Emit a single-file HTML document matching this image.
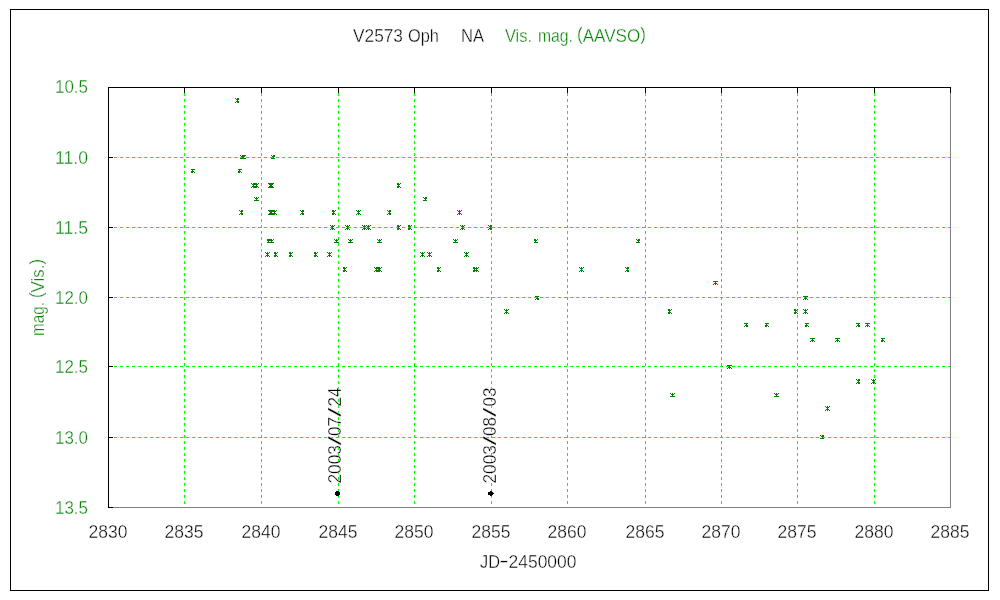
<!DOCTYPE html>
<html lang="en">
<head>
<meta charset="utf-8">
<title>V2573 Oph NA Vis. mag. (AAVSO)</title>
<style>
html,body{margin:0;padding:0;background:#fff;}
body{width:1000px;height:600px;overflow:hidden;}
svg{display:block;will-change:transform;}
text{font-family:"Liberation Sans",sans-serif;font-size:18px;stroke:#fff;stroke-width:0.36px;stroke-linejoin:round;}
.g{fill:#008000;}
.k{fill:#000;}
</style>
</head>
<body>
<svg width="1000" height="600" viewBox="0 0 1000 600">
<rect x="0" y="0" width="1000" height="600" fill="#fff"/>
<g shape-rendering="crispEdges">
<rect x="10.5" y="9.5" width="978" height="581" fill="none" stroke="#000" stroke-width="1"/>
<line x1="184.5" y1="87" x2="184.5" y2="507" stroke="#00ff00" stroke-width="1" stroke-dasharray="3 3"/>
<line x1="261.5" y1="87" x2="261.5" y2="507" stroke="#00ff00" stroke-width="1" stroke-dasharray="3 3"/>
<line x1="338.5" y1="87" x2="338.5" y2="507" stroke="#00ff00" stroke-width="1" stroke-dasharray="3 3"/>
<line x1="414.5" y1="87" x2="414.5" y2="507" stroke="#00ff00" stroke-width="1" stroke-dasharray="3 3"/>
<line x1="491.5" y1="87" x2="491.5" y2="507" stroke="#00ff00" stroke-width="1" stroke-dasharray="3 3"/>
<line x1="567.5" y1="87" x2="567.5" y2="507" stroke="#00ff00" stroke-width="1" stroke-dasharray="3 3"/>
<line x1="645.5" y1="87" x2="645.5" y2="507" stroke="#00ff00" stroke-width="1" stroke-dasharray="3 3"/>
<line x1="721.5" y1="87" x2="721.5" y2="507" stroke="#00ff00" stroke-width="1" stroke-dasharray="3 3"/>
<line x1="797.5" y1="87" x2="797.5" y2="507" stroke="#00ff00" stroke-width="1" stroke-dasharray="3 3"/>
<line x1="874.5" y1="87" x2="874.5" y2="507" stroke="#00ff00" stroke-width="1" stroke-dasharray="3 3"/>
<line x1="108" y1="157.5" x2="950" y2="157.5" stroke="#00ff00" stroke-width="1" stroke-dasharray="3 3"/>
<line x1="108" y1="227.5" x2="950" y2="227.5" stroke="#00ff00" stroke-width="1" stroke-dasharray="3 3"/>
<line x1="108" y1="297.5" x2="950" y2="297.5" stroke="#00ff00" stroke-width="1" stroke-dasharray="3 3"/>
<line x1="108" y1="366.5" x2="950" y2="366.5" stroke="#00ff00" stroke-width="1" stroke-dasharray="3 3"/>
<line x1="108" y1="437.5" x2="950" y2="437.5" stroke="#00ff00" stroke-width="1" stroke-dasharray="3 3"/>
<rect x="950" y="87" width="1" height="421" fill="#808080"/>
<rect x="108" y="507" width="843" height="1" fill="#808080"/>
<rect x="108" y="87" width="843" height="1" fill="#000"/>
<rect x="108" y="87" width="1" height="421" fill="#000"/>
<rect x="108" y="87" width="1" height="6" fill="#000"/>
<rect x="184" y="87" width="1" height="6" fill="#000"/>
<rect x="261" y="87" width="1" height="6" fill="#000"/>
<rect x="338" y="87" width="1" height="6" fill="#000"/>
<rect x="414" y="87" width="1" height="6" fill="#000"/>
<rect x="491" y="87" width="1" height="6" fill="#000"/>
<rect x="567" y="87" width="1" height="6" fill="#000"/>
<rect x="645" y="87" width="1" height="6" fill="#000"/>
<rect x="721" y="87" width="1" height="6" fill="#000"/>
<rect x="797" y="87" width="1" height="6" fill="#000"/>
<rect x="874" y="87" width="1" height="6" fill="#000"/>
<rect x="950" y="87" width="1" height="6" fill="#000"/>
<rect x="108" y="87" width="5" height="1" fill="#000"/>
<rect x="108" y="157" width="5" height="1" fill="#000"/>
<rect x="108" y="227" width="5" height="1" fill="#000"/>
<rect x="108" y="297" width="5" height="1" fill="#000"/>
<rect x="108" y="366" width="5" height="1" fill="#000"/>
<rect x="108" y="437" width="5" height="1" fill="#000"/>
<rect x="108" y="507" width="5" height="1" fill="#000"/>
</g>
<g fill="#008000" shape-rendering="crispEdges">
<path d="M235 98h1v1h-1zM237 98h2v1h-2zM236 99h3v1h-3zM237 100h1v1h-1zM236 101h3v1h-3zM235 102h1v1h-1zM237 102h2v1h-2z"/>
<path d="M240 155h1v1h-1zM242 155h1v1h-1zM244 155h1v1h-1zM241 156h3v1h-3zM242 157h1v1h-1zM240 158h5v1h-5z"/>
<path d="M242 155h2v1h-2zM245 155h1v1h-1zM242 156h3v1h-3zM243 157h1v1h-1zM242 158h4v1h-4z"/>
<path d="M271 155h1v1h-1zM273 155h2v1h-2zM272 156h3v1h-3zM273 157h1v1h-1zM271 158h4v1h-4z"/>
<path d="M191 169h4v1h-4zM192 170h1v1h-1zM191 171h3v1h-3zM191 172h2v1h-2zM194 172h1v1h-1z"/>
<path d="M238 169h4v1h-4zM239 170h1v1h-1zM238 171h3v1h-3zM238 172h2v1h-2zM241 172h1v1h-1z"/>
<path d="M251 183h1v1h-1zM253 183h1v1h-1zM255 183h1v1h-1zM252 184h3v1h-3zM253 185h1v1h-1zM252 186h3v1h-3zM251 187h1v1h-1zM253 187h1v1h-1zM255 187h1v1h-1z"/>
<path d="M254 183h1v1h-1zM256 183h1v1h-1zM258 183h1v1h-1zM255 184h3v1h-3zM256 185h1v1h-1zM255 186h3v1h-3zM254 187h1v1h-1zM256 187h1v1h-1zM258 187h1v1h-1z"/>
<path d="M268 183h1v1h-1zM270 183h1v1h-1zM272 183h1v1h-1zM269 184h3v1h-3zM270 185h1v1h-1zM269 186h3v1h-3zM268 187h1v1h-1zM270 187h1v1h-1zM272 187h1v1h-1z"/>
<path d="M269 183h1v1h-1zM271 183h1v1h-1zM273 183h1v1h-1zM270 184h3v1h-3zM271 185h1v1h-1zM270 186h3v1h-3zM269 187h1v1h-1zM271 187h1v1h-1zM273 187h1v1h-1z"/>
<path d="M397 183h2v1h-2zM400 183h1v1h-1zM397 184h3v1h-3zM398 185h1v1h-1zM397 186h3v1h-3zM397 187h2v1h-2zM400 187h1v1h-1z"/>
<path d="M254 197h1v1h-1zM256 197h1v1h-1zM258 197h1v1h-1zM255 198h3v1h-3zM256 199h1v1h-1zM254 200h5v1h-5z"/>
<path d="M423 197h1v1h-1zM425 197h2v1h-2zM424 198h3v1h-3zM425 199h1v1h-1zM423 200h4v1h-4z"/>
<path d="M239 210h1v1h-1zM241 210h2v1h-2zM240 211h3v1h-3zM241 212h1v1h-1zM240 213h3v1h-3zM239 214h1v1h-1zM241 214h2v1h-2z"/>
<path d="M268 210h1v1h-1zM270 210h1v1h-1zM272 210h1v1h-1zM269 211h3v1h-3zM270 212h1v1h-1zM269 213h3v1h-3zM268 214h1v1h-1zM270 214h1v1h-1zM272 214h1v1h-1z"/>
<path d="M269 210h1v1h-1zM271 210h1v1h-1zM273 210h1v1h-1zM270 211h3v1h-3zM271 212h1v1h-1zM270 213h3v1h-3zM269 214h1v1h-1zM271 214h1v1h-1zM273 214h1v1h-1z"/>
<path d="M272 210h1v1h-1zM274 210h1v1h-1zM276 210h1v1h-1zM273 211h3v1h-3zM274 212h1v1h-1zM273 213h3v1h-3zM272 214h1v1h-1zM274 214h1v1h-1zM276 214h1v1h-1z"/>
<path d="M300 210h1v1h-1zM302 210h2v1h-2zM301 211h3v1h-3zM302 212h1v1h-1zM301 213h3v1h-3zM300 214h1v1h-1zM302 214h2v1h-2z"/>
<path d="M332 210h2v1h-2zM335 210h1v1h-1zM332 211h3v1h-3zM333 212h1v1h-1zM332 213h3v1h-3zM332 214h2v1h-2zM335 214h1v1h-1z"/>
<path d="M356 210h1v1h-1zM358 210h1v1h-1zM360 210h1v1h-1zM357 211h3v1h-3zM358 212h1v1h-1zM357 213h3v1h-3zM356 214h1v1h-1zM358 214h1v1h-1zM360 214h1v1h-1z"/>
<path d="M387 210h1v1h-1zM389 210h2v1h-2zM388 211h3v1h-3zM389 212h1v1h-1zM388 213h3v1h-3zM387 214h1v1h-1zM389 214h2v1h-2z"/>
<path d="M457 210h1v1h-1zM459 210h1v1h-1zM461 210h1v1h-1zM458 211h3v1h-3zM459 212h1v1h-1zM458 213h3v1h-3zM457 214h1v1h-1zM459 214h1v1h-1zM461 214h1v1h-1z"/>
<path d="M330 225h1v1h-1zM332 225h1v1h-1zM334 225h1v1h-1zM331 226h3v1h-3zM332 227h1v1h-1zM331 228h3v1h-3zM330 229h1v1h-1zM332 229h1v1h-1zM334 229h1v1h-1z"/>
<path d="M345 225h1v1h-1zM347 225h1v1h-1zM349 225h1v1h-1zM346 226h3v1h-3zM347 227h1v1h-1zM346 228h3v1h-3zM345 229h1v1h-1zM347 229h1v1h-1zM349 229h1v1h-1z"/>
<path d="M362 225h1v1h-1zM364 225h1v1h-1zM366 225h1v1h-1zM363 226h3v1h-3zM364 227h1v1h-1zM363 228h3v1h-3zM362 229h1v1h-1zM364 229h1v1h-1zM366 229h1v1h-1z"/>
<path d="M366 225h1v1h-1zM368 225h1v1h-1zM370 225h1v1h-1zM367 226h3v1h-3zM368 227h1v1h-1zM367 228h3v1h-3zM366 229h1v1h-1zM368 229h1v1h-1zM370 229h1v1h-1z"/>
<path d="M397 225h2v1h-2zM400 225h1v1h-1zM397 226h3v1h-3zM398 227h1v1h-1zM397 228h3v1h-3zM397 229h2v1h-2zM400 229h1v1h-1z"/>
<path d="M408 225h2v1h-2zM411 225h1v1h-1zM408 226h3v1h-3zM409 227h1v1h-1zM408 228h3v1h-3zM408 229h2v1h-2zM411 229h1v1h-1z"/>
<path d="M460 225h1v1h-1zM462 225h1v1h-1zM464 225h1v1h-1zM461 226h3v1h-3zM462 227h1v1h-1zM461 228h3v1h-3zM460 229h1v1h-1zM462 229h1v1h-1zM464 229h1v1h-1z"/>
<path d="M488 225h1v1h-1zM490 225h2v1h-2zM489 226h3v1h-3zM490 227h1v1h-1zM489 228h3v1h-3zM488 229h1v1h-1zM490 229h2v1h-2z"/>
<path d="M267 239h2v1h-2zM270 239h1v1h-1zM267 240h3v1h-3zM268 241h1v1h-1zM267 242h4v1h-4z"/>
<path d="M269 239h1v1h-1zM271 239h1v1h-1zM273 239h1v1h-1zM270 240h3v1h-3zM271 241h1v1h-1zM269 242h5v1h-5z"/>
<path d="M334 239h1v1h-1zM336 239h1v1h-1zM338 239h1v1h-1zM335 240h3v1h-3zM336 241h1v1h-1zM334 242h5v1h-5z"/>
<path d="M348 239h1v1h-1zM350 239h1v1h-1zM352 239h1v1h-1zM349 240h3v1h-3zM350 241h1v1h-1zM348 242h5v1h-5z"/>
<path d="M377 239h1v1h-1zM379 239h1v1h-1zM381 239h1v1h-1zM378 240h3v1h-3zM379 241h1v1h-1zM377 242h5v1h-5z"/>
<path d="M453 239h1v1h-1zM455 239h1v1h-1zM457 239h1v1h-1zM454 240h3v1h-3zM455 241h1v1h-1zM453 242h5v1h-5z"/>
<path d="M534 239h2v1h-2zM537 239h1v1h-1zM534 240h3v1h-3zM535 241h1v1h-1zM534 242h4v1h-4z"/>
<path d="M636 239h1v1h-1zM638 239h2v1h-2zM637 240h3v1h-3zM638 241h1v1h-1zM636 242h4v1h-4z"/>
<path d="M265 252h1v1h-1zM267 252h1v1h-1zM269 252h1v1h-1zM266 253h3v1h-3zM267 254h1v1h-1zM266 255h3v1h-3zM265 256h1v1h-1zM267 256h1v1h-1zM269 256h1v1h-1z"/>
<path d="M274 252h2v1h-2zM277 252h1v1h-1zM274 253h3v1h-3zM275 254h1v1h-1zM274 255h3v1h-3zM274 256h2v1h-2zM277 256h1v1h-1z"/>
<path d="M289 252h2v1h-2zM292 252h1v1h-1zM289 253h3v1h-3zM290 254h1v1h-1zM289 255h3v1h-3zM289 256h2v1h-2zM292 256h1v1h-1z"/>
<path d="M314 252h2v1h-2zM317 252h1v1h-1zM314 253h3v1h-3zM315 254h1v1h-1zM314 255h3v1h-3zM314 256h2v1h-2zM317 256h1v1h-1z"/>
<path d="M327 252h1v1h-1zM329 252h1v1h-1zM331 252h1v1h-1zM328 253h3v1h-3zM329 254h1v1h-1zM328 255h3v1h-3zM327 256h1v1h-1zM329 256h1v1h-1zM331 256h1v1h-1z"/>
<path d="M420 252h1v1h-1zM422 252h1v1h-1zM424 252h1v1h-1zM421 253h3v1h-3zM422 254h1v1h-1zM421 255h3v1h-3zM420 256h1v1h-1zM422 256h1v1h-1zM424 256h1v1h-1z"/>
<path d="M427 252h1v1h-1zM429 252h1v1h-1zM431 252h1v1h-1zM428 253h3v1h-3zM429 254h1v1h-1zM428 255h3v1h-3zM427 256h1v1h-1zM429 256h1v1h-1zM431 256h1v1h-1z"/>
<path d="M464 252h1v1h-1zM466 252h1v1h-1zM468 252h1v1h-1zM465 253h3v1h-3zM466 254h1v1h-1zM465 255h3v1h-3zM464 256h1v1h-1zM466 256h1v1h-1zM468 256h1v1h-1z"/>
<path d="M343 267h2v1h-2zM346 267h1v1h-1zM343 268h3v1h-3zM344 269h1v1h-1zM343 270h3v1h-3zM343 271h2v1h-2zM346 271h1v1h-1z"/>
<path d="M374 267h1v1h-1zM376 267h1v1h-1zM378 267h1v1h-1zM375 268h3v1h-3zM376 269h1v1h-1zM375 270h3v1h-3zM374 271h1v1h-1zM376 271h1v1h-1zM378 271h1v1h-1z"/>
<path d="M376 267h1v1h-1zM378 267h2v1h-2zM377 268h3v1h-3zM378 269h1v1h-1zM377 270h3v1h-3zM376 271h1v1h-1zM378 271h2v1h-2z"/>
<path d="M377 267h1v1h-1zM379 267h1v1h-1zM381 267h1v1h-1zM378 268h3v1h-3zM379 269h1v1h-1zM378 270h3v1h-3zM377 271h1v1h-1zM379 271h1v1h-1zM381 271h1v1h-1z"/>
<path d="M437 267h2v1h-2zM440 267h1v1h-1zM437 268h3v1h-3zM438 269h1v1h-1zM437 270h3v1h-3zM437 271h2v1h-2zM440 271h1v1h-1z"/>
<path d="M473 267h2v1h-2zM476 267h1v1h-1zM473 268h3v1h-3zM474 269h1v1h-1zM473 270h3v1h-3zM473 271h2v1h-2zM476 271h1v1h-1z"/>
<path d="M474 267h1v1h-1zM476 267h1v1h-1zM478 267h1v1h-1zM475 268h3v1h-3zM476 269h1v1h-1zM475 270h3v1h-3zM474 271h1v1h-1zM476 271h1v1h-1zM478 271h1v1h-1z"/>
<path d="M579 267h1v1h-1zM581 267h1v1h-1zM583 267h1v1h-1zM580 268h3v1h-3zM581 269h1v1h-1zM580 270h3v1h-3zM579 271h1v1h-1zM581 271h1v1h-1zM583 271h1v1h-1z"/>
<path d="M625 267h1v1h-1zM627 267h2v1h-2zM626 268h3v1h-3zM627 269h1v1h-1zM626 270h3v1h-3zM625 271h1v1h-1zM627 271h2v1h-2z"/>
<path d="M713 281h5v1h-5zM715 282h1v1h-1zM714 283h3v1h-3zM713 284h1v1h-1zM715 284h1v1h-1zM717 284h1v1h-1z"/>
<path d="M535 296h4v1h-4zM537 297h1v1h-1zM536 298h3v1h-3zM535 299h1v1h-1zM537 299h2v1h-2z"/>
<path d="M803 296h5v1h-5zM805 297h1v1h-1zM804 298h3v1h-3zM803 299h1v1h-1zM805 299h1v1h-1zM807 299h1v1h-1z"/>
<path d="M504 309h1v1h-1zM506 309h1v1h-1zM508 309h1v1h-1zM505 310h3v1h-3zM506 311h1v1h-1zM505 312h3v1h-3zM504 313h1v1h-1zM506 313h1v1h-1zM508 313h1v1h-1z"/>
<path d="M668 309h2v1h-2zM671 309h1v1h-1zM668 310h3v1h-3zM669 311h1v1h-1zM668 312h3v1h-3zM668 313h2v1h-2zM671 313h1v1h-1z"/>
<path d="M794 309h2v1h-2zM797 309h1v1h-1zM794 310h3v1h-3zM795 311h1v1h-1zM794 312h3v1h-3zM794 313h2v1h-2zM797 313h1v1h-1z"/>
<path d="M803 309h1v1h-1zM805 309h1v1h-1zM807 309h1v1h-1zM804 310h3v1h-3zM805 311h1v1h-1zM804 312h3v1h-3zM803 313h1v1h-1zM805 313h1v1h-1zM807 313h1v1h-1z"/>
<path d="M744 323h4v1h-4zM746 324h1v1h-1zM745 325h3v1h-3zM744 326h1v1h-1zM746 326h2v1h-2z"/>
<path d="M765 323h4v1h-4zM766 324h1v1h-1zM765 325h3v1h-3zM765 326h2v1h-2zM768 326h1v1h-1z"/>
<path d="M805 323h4v1h-4zM806 324h1v1h-1zM805 325h3v1h-3zM805 326h2v1h-2zM808 326h1v1h-1z"/>
<path d="M856 323h4v1h-4zM858 324h1v1h-1zM857 325h3v1h-3zM856 326h1v1h-1zM858 326h2v1h-2z"/>
<path d="M865 323h5v1h-5zM867 324h1v1h-1zM866 325h3v1h-3zM865 326h1v1h-1zM867 326h1v1h-1zM869 326h1v1h-1z"/>
<path d="M810 338h5v1h-5zM812 339h1v1h-1zM811 340h3v1h-3zM810 341h1v1h-1zM812 341h1v1h-1zM814 341h1v1h-1z"/>
<path d="M835 338h5v1h-5zM837 339h1v1h-1zM836 340h3v1h-3zM835 341h1v1h-1zM837 341h1v1h-1zM839 341h1v1h-1z"/>
<path d="M881 338h4v1h-4zM882 339h1v1h-1zM881 340h3v1h-3zM881 341h2v1h-2zM884 341h1v1h-1z"/>
<path d="M727 365h5v1h-5zM729 366h1v1h-1zM728 367h3v1h-3zM727 368h1v1h-1zM729 368h1v1h-1zM731 368h1v1h-1z"/>
<path d="M856 379h1v1h-1zM858 379h2v1h-2zM857 380h3v1h-3zM858 381h1v1h-1zM857 382h3v1h-3zM856 383h1v1h-1zM858 383h2v1h-2z"/>
<path d="M871 379h1v1h-1zM873 379h1v1h-1zM875 379h1v1h-1zM872 380h3v1h-3zM873 381h1v1h-1zM872 382h3v1h-3zM871 383h1v1h-1zM873 383h1v1h-1zM875 383h1v1h-1z"/>
<path d="M670 393h1v1h-1zM672 393h1v1h-1zM674 393h1v1h-1zM671 394h3v1h-3zM672 395h1v1h-1zM670 396h5v1h-5z"/>
<path d="M774 393h1v1h-1zM776 393h1v1h-1zM778 393h1v1h-1zM775 394h3v1h-3zM776 395h1v1h-1zM774 396h5v1h-5z"/>
<path d="M825 406h1v1h-1zM827 406h1v1h-1zM829 406h1v1h-1zM826 407h3v1h-3zM827 408h1v1h-1zM826 409h3v1h-3zM825 410h1v1h-1zM827 410h1v1h-1zM829 410h1v1h-1z"/>
<path d="M820 435h1v1h-1zM822 435h2v1h-2zM821 436h3v1h-3zM822 437h1v1h-1zM820 438h4v1h-4z"/>
</g>
<g fill="#000" shape-rendering="crispEdges">
<path d="M336 491h3v1h-3zM335 492h5v3h-5zM336 495h3v1h-3z"/>
<path d="M490 491h2v1h-2zM488 492h5v1h-5zM488 493h6v1h-6zM488 494h5v1h-5zM490 495h2v1h-2z"/>
</g>
<text class="k" x="353" y="42" textLength="50" lengthAdjust="spacingAndGlyphs">V2573</text>
<text class="k" x="408" y="42" textLength="31" lengthAdjust="spacingAndGlyphs">Oph</text>
<text class="k" x="461" y="42" textLength="23" lengthAdjust="spacingAndGlyphs">NA</text>
<text class="g" x="505" y="42" textLength="27" lengthAdjust="spacingAndGlyphs">Vis.</text>
<text class="g" x="538" y="42" textLength="35" lengthAdjust="spacingAndGlyphs">mag.</text>
<text class="g" x="577" y="42" textLength="69" lengthAdjust="spacingAndGlyphs"><tspan dy="-2">(</tspan><tspan dy="2">AAVSO</tspan><tspan dy="-2">)</tspan></text>
<text class="g" x="55" y="93" textLength="33" lengthAdjust="spacingAndGlyphs">10.5</text>
<text class="g" x="55" y="164" textLength="33" lengthAdjust="spacingAndGlyphs">11.0</text>
<text class="g" x="55" y="234" textLength="33" lengthAdjust="spacingAndGlyphs">11.5</text>
<text class="g" x="55" y="304" textLength="33" lengthAdjust="spacingAndGlyphs">12.0</text>
<text class="g" x="55" y="373" textLength="33" lengthAdjust="spacingAndGlyphs">12.5</text>
<text class="g" x="55" y="444" textLength="33" lengthAdjust="spacingAndGlyphs">13.0</text>
<text class="g" x="55" y="514" textLength="33" lengthAdjust="spacingAndGlyphs">13.5</text>
<text class="k" x="88.5" y="538" textLength="39" lengthAdjust="spacingAndGlyphs">2830</text>
<text class="k" x="164.5" y="538" textLength="39" lengthAdjust="spacingAndGlyphs">2835</text>
<text class="k" x="241.5" y="538" textLength="39" lengthAdjust="spacingAndGlyphs">2840</text>
<text class="k" x="318.5" y="538" textLength="39" lengthAdjust="spacingAndGlyphs">2845</text>
<text class="k" x="394.5" y="538" textLength="39" lengthAdjust="spacingAndGlyphs">2850</text>
<text class="k" x="471.5" y="538" textLength="39" lengthAdjust="spacingAndGlyphs">2855</text>
<text class="k" x="547.5" y="538" textLength="39" lengthAdjust="spacingAndGlyphs">2860</text>
<text class="k" x="625.5" y="538" textLength="39" lengthAdjust="spacingAndGlyphs">2865</text>
<text class="k" x="701.5" y="538" textLength="39" lengthAdjust="spacingAndGlyphs">2870</text>
<text class="k" x="777.5" y="538" textLength="39" lengthAdjust="spacingAndGlyphs">2875</text>
<text class="k" x="854.5" y="538" textLength="39" lengthAdjust="spacingAndGlyphs">2880</text>
<text class="k" x="930.5" y="538" textLength="39" lengthAdjust="spacingAndGlyphs">2885</text>
<text class="k" y="568"><tspan x="480" textLength="20" lengthAdjust="spacingAndGlyphs">JD</tspan><tspan x="499" dy="-1" textLength="10" lengthAdjust="spacingAndGlyphs">-</tspan><tspan x="508.5" dy="1" textLength="68" lengthAdjust="spacingAndGlyphs">2450000</tspan></text>
<text class="g" transform="translate(44,336) rotate(-90)" textLength="34" lengthAdjust="spacingAndGlyphs">mag.</text>
<text class="g" transform="translate(44,298) rotate(-90)" textLength="39" lengthAdjust="spacingAndGlyphs"><tspan dy="-2">(</tspan><tspan dy="2">Vis.</tspan><tspan dy="-2">)</tspan></text>
<text class="k" transform="translate(341,485) rotate(-90)"><tspan x="1.5" textLength="38.5" lengthAdjust="spacingAndGlyphs">2003</tspan><tspan x="39.5" textLength="9.5" lengthAdjust="spacingAndGlyphs">/</tspan><tspan x="49" textLength="19" lengthAdjust="spacingAndGlyphs">07</tspan><tspan x="68" textLength="9.5" lengthAdjust="spacingAndGlyphs">/</tspan><tspan x="78.5" textLength="19" lengthAdjust="spacingAndGlyphs">24</tspan></text>
<text class="k" transform="translate(496,485) rotate(-90)"><tspan x="1.5" textLength="38.5" lengthAdjust="spacingAndGlyphs">2003</tspan><tspan x="39.5" textLength="9.5" lengthAdjust="spacingAndGlyphs">/</tspan><tspan x="49" textLength="19" lengthAdjust="spacingAndGlyphs">08</tspan><tspan x="68" textLength="9.5" lengthAdjust="spacingAndGlyphs">/</tspan><tspan x="78.5" textLength="19" lengthAdjust="spacingAndGlyphs">03</tspan></text>
</svg>
</body>
</html>
